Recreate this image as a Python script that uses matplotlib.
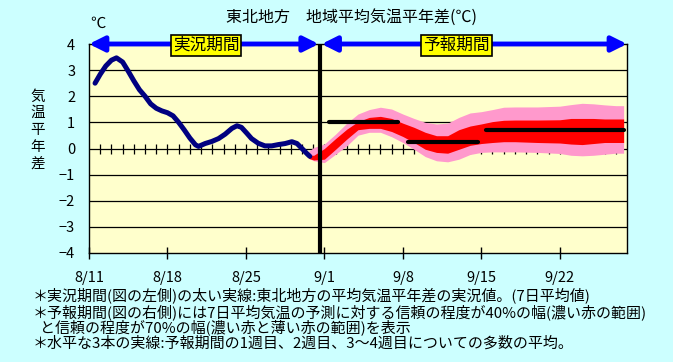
import matplotlib
matplotlib.use("Agg")
import matplotlib.pyplot as plt

plt.rcParams['font.family'] = ['Noto Sans CJK JP', 'DejaVu Sans']

# observed 7-day mean anomaly (day index from 8/11)
obs_days = [0.54, 1.0, 1.5, 2.0, 2.45, 3.0, 3.5, 4.0, 4.5, 5.0, 5.5, 6.0, 6.5, 7.0,
            7.5, 8.0, 8.5, 9.0, 9.5, 9.77, 10.36, 10.96, 11.56, 12.15, 12.75, 13.2,
            13.6, 14.07, 14.5, 15.1, 15.7, 16.3, 16.9, 17.5, 18.1, 18.56, 19.0, 19.5, 19.7]
obs_vals = [2.5, 2.84, 3.16, 3.38, 3.47, 3.31, 2.96, 2.59, 2.25, 2.0, 1.71, 1.54, 1.44, 1.37,
            1.25, 1.0, 0.71, 0.4, 0.14, 0.08, 0.19, 0.27, 0.38, 0.55, 0.77, 0.87,
            0.81, 0.59, 0.38, 0.2, 0.1, 0.1, 0.15, 0.19, 0.26, 0.19, 0.0, -0.22, -0.3]

# forecast ranges (70% pink, 40% red)
fc_days = [19.6, 20.05, 21, 22, 23, 24, 25, 26, 27, 28, 29, 30, 31, 32, 33, 34,
           35, 36, 37, 38, 40, 42, 43, 44, 45, 46, 47, 47.7]
pink_hi = [-0.1, 0.04, 0.17, 0.55, 0.97, 1.32, 1.49, 1.58, 1.51, 1.32, 1.15, 1.0, 0.94,
           0.97, 1.19, 1.36, 1.41, 1.49, 1.58, 1.59, 1.59, 1.62, 1.68, 1.73, 1.71, 1.67,
           1.64, 1.64]
pink_lo = [-0.38, -0.47, -0.54, -0.22, 0.1, 0.51, 0.62, 0.62, 0.45, 0.23, -0.03, -0.31,
           -0.47, -0.51, -0.41, -0.23, -0.15, -0.13, -0.13, -0.13, -0.15, -0.19, -0.26,
           -0.28, -0.26, -0.22, -0.18, -0.18]
red_hi = [-0.25, -0.26, 0.0, 0.38, 0.74, 1.03, 1.19, 1.23, 1.15, 0.97, 0.81, 0.62, 0.49,
          0.49, 0.72, 0.86, 0.94, 1.03, 1.08, 1.09, 1.09, 1.1, 1.15, 1.15, 1.15, 1.13,
          1.13, 1.13]
red_lo = [-0.38, -0.44, -0.41, -0.03, 0.36, 0.72, 0.77, 0.77, 0.65, 0.46, 0.23, -0.03,
          -0.15, -0.18, -0.03, 0.12, 0.19, 0.23, 0.26, 0.26, 0.23, 0.21, 0.17, 0.15, 0.19,
          0.23, 0.23, 0.23]

# weekly mean lines: (start, end, value)
mean_start = [21.45, 28.5, 35.4]
mean_end = [27.6, 34.7, 47.7]
mean_vals = [1.0, 0.23, 0.72]

tick_pos = [0, 7, 14, 21, 28, 35, 42]
tick_labels = ["8/11", "8/18", "8/25", "9/1", "9/8", "9/15", "9/22"]

W, H = 673, 362
fig = plt.figure(figsize=(W / 100, H / 100), dpi=100, facecolor="#CCFFFF")
ax = fig.add_axes([89 / W, 1 - 253 / H, (627 - 89) / W, (253 - 44) / H])
ax.set_facecolor("#FFFFCC")
ax.set_xlim(0, 48)
ax.set_ylim(-4, 4)

for v in range(-3, 4):
    ax.axhline(v, color="black", lw=0.9, zorder=1)

# small day ticks on the zero line
ax.plot(range(1, 48), [0] * 47, ls="none", marker="|", ms=7.5, mew=0.9,
        color="black", zorder=1)

ax.fill_between(fc_days, pink_lo, pink_hi, color="#FF99CC", lw=0, zorder=2)
ax.fill_between(fc_days, red_lo, red_hi, color="#FF0000", lw=0, zorder=3)
ax.plot(obs_days, obs_vals, color="#000080", lw=3.6, solid_capstyle="round", zorder=4)

for s, e, v in zip(mean_start, mean_end, mean_vals):
    ax.plot([s, e], [v, v], color="black", lw=3, solid_capstyle="round", zorder=5)

ax.axvline(20.6, color="black", lw=3, zorder=6)

# period arrows
for x0, x1 in [(0, 20.5), (20.75, 48)]:
    ax.annotate("", xy=(x1, 4), xytext=(x0, 4),
                arrowprops=dict(arrowstyle="<|-|>,head_length=0.9,head_width=0.45",
                                mutation_scale=10, color="#0000FF", lw=3.5,
                                shrinkA=0, shrinkB=0),
                annotation_clip=False, zorder=7)
box = dict(boxstyle="square,pad=0.12", fc="#FFFF00", ec="black", lw=1.2)
ax.text(10.45, 3.94, "実況期間", ha="center", va="center", fontsize=12,
        bbox=box, zorder=8, clip_on=False)
ax.text(32.8, 3.94, "予報期間", ha="center", va="center", fontsize=12,
        bbox=box, zorder=8, clip_on=False)

for sp in ax.spines.values():
    sp.set_color("black")
    sp.set_linewidth(1)
ax.set_xticks(tick_pos)
ax.set_xticklabels(tick_labels)
ax.set_yticks(range(-4, 5))
ax.tick_params(axis="x", direction="inout", length=8, width=1, pad=9, labelsize=10.5)
ax.tick_params(axis="y", length=0, pad=10, labelsize=10.5)

fig.text(351 / W, 1 - 17 / H, "東北地方　地域平均気温平年差(℃)", ha="center",
         va="center", fontsize=11.5)
fig.text(98 / W, 1 - 23 / H, "℃", ha="center", va="center", fontsize=11)
fig.text(38 / W, 1 - 130 / H, "気\n温\n平\n年\n差", ha="center", va="center",
         fontsize=10.5, linespacing=1.25)

notes = [
    (33, 295, "＊実況期間(図の左側)の太い実線:東北地方の平均気温平年差の実況値。(7日平均値)"),
    (33, 312.5, "＊予報期間(図の右側)には7日平均気温の予測に対する信頼の程度が40%の幅(濃い赤の範囲)"),
    (40, 327, "と信頼の程度が70%の幅(濃い赤と薄い赤の範囲)を表示"),
    (33, 343, "＊水平な3本の実線:予報期間の1週目、2週目、3～4週目についての多数の平均。"),
]
for x, y, t in notes:
    fig.text(x / W, 1 - y / H, t, ha="left", va="center", fontsize=10.8)

fig.savefig("out.png", dpi=100, facecolor=fig.get_facecolor())
